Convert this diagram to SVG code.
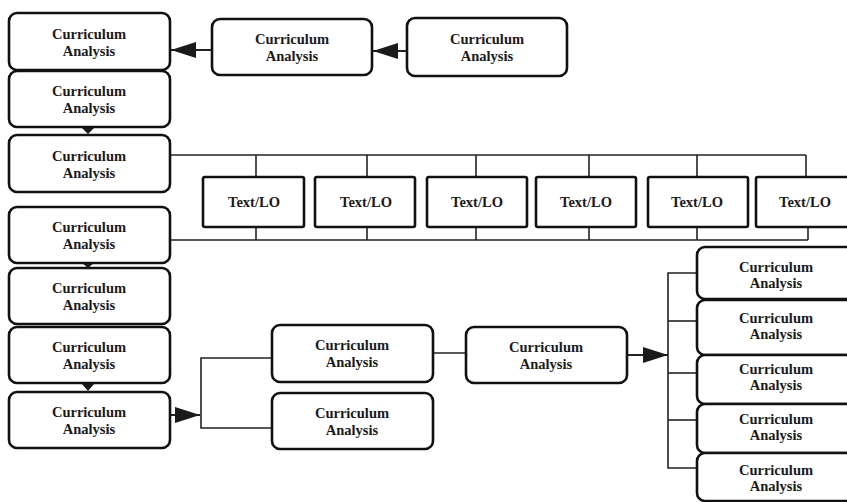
<svg xmlns="http://www.w3.org/2000/svg" width="847" height="502" viewBox="0 0 847 502">
<defs>
<marker id="big" markerUnits="userSpaceOnUse" markerWidth="26" markerHeight="18" refX="25" refY="9" orient="auto"><path d="M0,1 L25,9 L0,17 Z" fill="#1a1a1a"/></marker>
<style>
.n{fill:#fff;stroke:#111;stroke-width:2.6}
.t{font-family:"Liberation Serif","Times New Roman",serif;font-weight:bold;font-size:14.5px;fill:#1a1a1a;text-anchor:middle}
.c{fill:none;stroke:#222;stroke-width:1.6}
.a{fill:none;stroke:#222;stroke-width:2}
.s{fill:#1a1a1a}
</style>
</defs>
<rect width="847" height="502" fill="#fff"/>
<g id="connectors">
<line class="a" x1="212" y1="50" x2="171" y2="50" marker-end="url(#big)"/>
<line class="a" x1="407" y1="51" x2="373" y2="51" marker-end="url(#big)"/>
<polygon class="s" points="81,127 95,127 88,134"/>
<polygon class="s" points="81,262 95,262 88,268"/>
<polygon class="s" points="81,383 95,383 88,391"/>
<polyline class="c" points="170,155 806,155"/>
<line class="c" x1="256" y1="155" x2="256" y2="177"/>
<line class="c" x1="367" y1="155" x2="367" y2="177"/>
<line class="c" x1="476" y1="155" x2="476" y2="177"/>
<line class="c" x1="589" y1="155" x2="589" y2="177"/>
<line class="c" x1="697" y1="155" x2="697" y2="177"/>
<line class="c" x1="806" y1="155" x2="806" y2="177"/>
<polyline class="c" points="170,240 808,240"/>
<line class="c" x1="256" y1="227" x2="256" y2="240"/>
<line class="c" x1="367" y1="227" x2="367" y2="240"/>
<line class="c" x1="476" y1="227" x2="476" y2="240"/>
<line class="c" x1="589" y1="227" x2="589" y2="240"/>
<line class="c" x1="697" y1="227" x2="697" y2="240"/>
<line class="c" x1="808" y1="227" x2="808" y2="240"/>
<line class="a" x1="170" y1="415" x2="200" y2="415" marker-end="url(#big)"/>
<polyline class="c" points="272,358 201,358 201,428 272,428"/>
<line class="c" x1="433" y1="353" x2="466" y2="353"/>
<line class="a" x1="627" y1="355" x2="668" y2="355" marker-end="url(#big)"/>
<polyline class="c" points="697,273 668,273 668,468 697,468"/>
<line class="c" x1="668" y1="321" x2="697" y2="321"/>
<line class="c" x1="668" y1="373" x2="697" y2="373"/>
<line class="c" x1="668" y1="420" x2="697" y2="420"/>
</g>
<g id="L1"><rect class="n" x="9" y="13" width="161" height="57" rx="8"/><text class="t" x="89" y="39">Curriculum</text><text class="t" x="89" y="56">Analysis</text></g>
<g id="L2"><rect class="n" x="9" y="71" width="161" height="56" rx="8"/><text class="t" x="89" y="96">Curriculum</text><text class="t" x="89" y="113">Analysis</text></g>
<g id="L3"><rect class="n" x="9" y="135" width="161" height="57" rx="8"/><text class="t" x="89" y="161">Curriculum</text><text class="t" x="89" y="178">Analysis</text></g>
<g id="L4"><rect class="n" x="9" y="207" width="161" height="56" rx="8"/><text class="t" x="89" y="232">Curriculum</text><text class="t" x="89" y="249">Analysis</text></g>
<g id="L5"><rect class="n" x="9" y="268" width="161" height="56" rx="8"/><text class="t" x="89" y="293">Curriculum</text><text class="t" x="89" y="310">Analysis</text></g>
<g id="L6"><rect class="n" x="9" y="327" width="161" height="56" rx="8"/><text class="t" x="89" y="352">Curriculum</text><text class="t" x="89" y="369">Analysis</text></g>
<g id="L7"><rect class="n" x="9" y="392" width="161" height="56" rx="8"/><text class="t" x="89" y="417">Curriculum</text><text class="t" x="89" y="434">Analysis</text></g>
<g id="A"><rect class="n" x="212" y="19" width="160" height="56" rx="8"/><text class="t" x="292" y="44">Curriculum</text><text class="t" x="292" y="61">Analysis</text></g>
<g id="B"><rect class="n" x="407" y="18" width="160" height="58" rx="8"/><text class="t" x="487" y="44">Curriculum</text><text class="t" x="487" y="61">Analysis</text></g>
<g id="T1"><rect class="n" x="203" y="177" width="101" height="50" rx="2"/><text class="t" x="254" y="207">Text/LO</text></g>
<g id="T2"><rect class="n" x="315" y="177" width="100" height="50" rx="2"/><text class="t" x="366" y="207">Text/LO</text></g>
<g id="T3"><rect class="n" x="427" y="177" width="100" height="50" rx="2"/><text class="t" x="477" y="207">Text/LO</text></g>
<g id="T4"><rect class="n" x="536" y="177" width="100" height="50" rx="2"/><text class="t" x="586" y="207">Text/LO</text></g>
<g id="T5"><rect class="n" x="648" y="177" width="100" height="50" rx="2"/><text class="t" x="697" y="207">Text/LO</text></g>
<g id="T6"><rect class="n" x="756" y="177" width="100" height="50" rx="2"/><text class="t" x="805" y="207">Text/LO</text></g>
<g id="C"><rect class="n" x="272" y="325" width="161" height="57" rx="8"/><text class="t" x="352" y="350">Curriculum</text><text class="t" x="352" y="367">Analysis</text></g>
<g id="D"><rect class="n" x="272" y="393" width="161" height="56" rx="8"/><text class="t" x="352" y="418">Curriculum</text><text class="t" x="352" y="435">Analysis</text></g>
<g id="E"><rect class="n" x="466" y="327" width="161" height="56" rx="8"/><text class="t" x="546" y="352">Curriculum</text><text class="t" x="546" y="369">Analysis</text></g>
<g id="R1"><rect class="n" x="697" y="247" width="170" height="52" rx="8"/><text class="t" x="776" y="272">Curriculum</text><text class="t" x="776" y="288">Analysis</text></g>
<g id="R2"><rect class="n" x="697" y="300" width="170" height="55" rx="8"/><text class="t" x="776" y="323">Curriculum</text><text class="t" x="776" y="339">Analysis</text></g>
<g id="R3"><rect class="n" x="697" y="355" width="170" height="49" rx="8"/><text class="t" x="776" y="374">Curriculum</text><text class="t" x="776" y="390">Analysis</text></g>
<g id="R4"><rect class="n" x="697" y="404" width="170" height="49" rx="8"/><text class="t" x="776" y="424">Curriculum</text><text class="t" x="776" y="440">Analysis</text></g>
<g id="R5"><rect class="n" x="697" y="453" width="170" height="48" rx="8"/><text class="t" x="776" y="475">Curriculum</text><text class="t" x="776" y="491">Analysis</text></g>
</svg>
